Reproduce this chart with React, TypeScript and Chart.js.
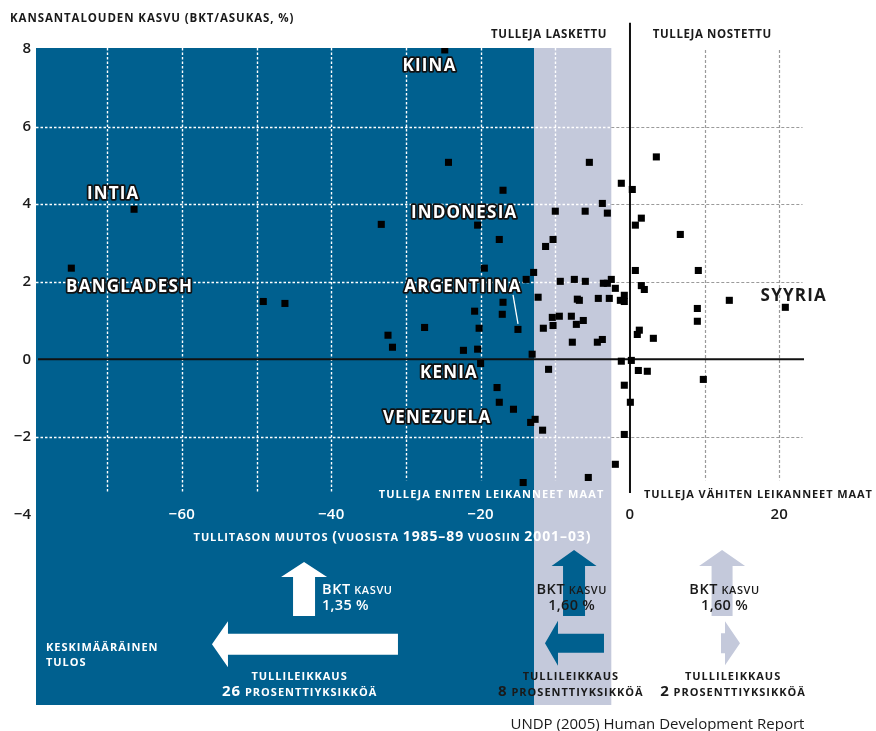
import React, { useEffect, useRef } from "react";
import { Chart, registerables } from "chart.js";

Chart.register(...registerables);

// ---------- DATA ----------
// Change in tariff level, percentage points (1985–89 to 2001–03)
const tariffChange = [
  -74.8, -66.4, -49.1, -46.2, -33.3, -32.4, -31.8, -27.5, -24.3, -17.0,
  -20.4, -17.5, -19.5, -12.9, -13.9, -12.3, -17.0, -20.8, -17.1, -20.2,
  -15.0, -22.3, -20.4, -13.1, -20.0, -5.44, 3.53, -1.16, 0.31, -3.7,
  -10.0, -6.0, -3.03, 1.52, 0.72, -10.3, -11.3, 0.72, -9.33, -7.45,
  -5.98, -2.5, -3.57, -3.03, 1.52, 1.92, -1.96, -7.05, -6.78, -4.24,
  -2.77, -0.76, -1.29, -0.76, -10.4, -9.46, -7.85, -11.6, -10.3, -7.18,
  -6.25, 1.25, 0.98, 3.13, -7.72, -4.37, -3.7, -1.16, 0.18, -10.9,
  1.12, 2.32, -17.8, -17.5, -15.6, -12.7, -13.3, -11.7, -0.76, 0.05,
  -0.76, -1.96, -5.58, -14.3, 6.74, 9.15, 13.3, 9.02, 9.02, 20.8,
  9.82, -24.8,
];
// GDP per capita growth, %
const gdpGrowth = [
  2.35, 3.87, 1.49, 1.44, 3.48, 0.62, 0.31, 0.82, 5.08, 4.36,
  3.46, 3.09, 2.35, 2.24, 2.06, 1.6, 1.47, 1.24, 1.16, 0.8,
  0.77, 0.23, 0.26, 0.13, -0.11, 5.08, 5.22, 4.54, 4.38, 4.02,
  3.82, 3.82, 3.77, 3.64, 3.46, 3.09, 2.91, 2.29, 2.01, 2.06,
  2.01, 2.06, 1.96, 1.96, 1.9, 1.8, 1.83, 1.55, 1.52, 1.57,
  1.57, 1.65, 1.52, 1.49, 1.08, 1.11, 1.11, 0.8, 0.87, 0.9,
  1.0, 0.75, 0.64, 0.54, 0.44, 0.44, 0.51, -0.05, -0.03, -0.26,
  -0.29, -0.31, -0.73, -1.11, -1.29, -1.55, -1.63, -1.83, -0.67, -1.11,
  -1.94, -2.71, -3.05, -3.18, 3.22, 2.29, 1.52, 1.31, 0.98, 1.34,
  -0.52, 7.98,
];

const countryNames = ["KIINA", "INTIA", "BANGLADESH", "INDONESIA", "ARGENTIINA", "KENIA", "VENEZUELA", "SYYRIA"];
const countryLabelX = [-26.84, -69.19, -66.99, -22.2, -22.36, -24.23, -25.81, 21.93];
const countryLabelY = [7.59, 4.28, 1.88, 3.8, 1.89, -0.33, -1.49, 1.65];
const countryLabelOutlined = [true, true, true, true, true, true, true, false];

const yTickValues = [-4, -2, 0, 2, 4, 6, 8];
const xTickValues = [-60, -40, -20, 0, 20];
const xGridValues = [-70, -60, -50, -40, -30, -20, -10, 10, 20];
const yGridValues = [-2, 2, 4, 6];

const xDomain = [-79.53, 32.94];
const yDomain = [-8.92, 8.03];
const deepCutBand = [-79.53, -12.85];
const moderateCutBand = [-12.85, -2.5];

// ---------- STYLE ----------
const BLUE = "#00608F";
const LAVENDER = "#C4C9DB";
const INK = "#1a1a1a";
const GRAY = "#9a9a9a";
const FONT = '"Open Sans", "Noto Sans", "DejaVu Sans", sans-serif';

const fmt = (v: number) => (v < 0 ? "\u2212" + Math.abs(v) : String(v));

function setFont(ctx: any, size: number, weight: string, spacing: number) {
  ctx.font = `${weight} ${size}px ${FONT}`;
  ctx.letterSpacing = `${spacing}px`;
}

function mixed(
  ctx: any,
  segs: [string, number][],
  x: number,
  y: number,
  align: "left" | "center" | "right",
  color: string,
  weight = "bold",
  spacing = 0.9
) {
  const widths: number[] = [];
  let total = 0;
  for (const [t, s] of segs) {
    setFont(ctx, s, weight, spacing);
    const w = ctx.measureText(t).width;
    widths.push(w);
    total += w;
  }
  let sx = align === "left" ? x : align === "center" ? x - total / 2 : x - total;
  ctx.textAlign = "left";
  ctx.textBaseline = "alphabetic";
  ctx.fillStyle = color;
  segs.forEach(([t, s], i) => {
    setFont(ctx, s, weight, spacing);
    ctx.fillText(t, sx, y);
    sx += widths[i];
  });
  ctx.letterSpacing = "0px";
}

function dashed(ctx: any, x1: number, y1: number, x2: number, y2: number, color: string, width: number, dash: number[]) {
  ctx.save();
  ctx.strokeStyle = color;
  ctx.lineWidth = width;
  ctx.setLineDash(dash);
  ctx.beginPath();
  ctx.moveTo(x1, y1);
  ctx.lineTo(x2, y2);
  ctx.stroke();
  ctx.restore();
}

function arrow(
  ctx: any,
  tx: number,
  ty: number,
  dir: "up" | "left" | "right",
  len: number,
  shaftW: number,
  headLen: number,
  headW: number,
  color: string
) {
  const pts: [number, number][] =
    dir === "up"
      ? [
          [0, 0],
          [headW / 2, headLen],
          [shaftW / 2, headLen],
          [shaftW / 2, len],
          [-shaftW / 2, len],
          [-shaftW / 2, headLen],
          [-headW / 2, headLen],
        ]
      : [
          [0, 0],
          [headLen, -headW / 2],
          [headLen, -shaftW / 2],
          [len, -shaftW / 2],
          [len, shaftW / 2],
          [headLen, shaftW / 2],
          [headLen, headW / 2],
        ];
  ctx.save();
  ctx.fillStyle = color;
  ctx.beginPath();
  pts.forEach(([dx, dy], i) => {
    const px = dir === "right" ? tx - dx : tx + dx;
    const py = ty + dy;
    if (i === 0) ctx.moveTo(px, py);
    else ctx.lineTo(px, py);
  });
  ctx.closePath();
  ctx.fill();
  ctx.restore();
}

const decorPlugin = {
  id: "decor",
  beforeDraw(chart: any) {
    const { ctx, chartArea, scales } = chart;
    const X = (v: number) => scales.x.getPixelForValue(v);
    const { top, bottom } = chartArea;
    ctx.save();
    ctx.fillStyle = BLUE;
    ctx.fillRect(X(deepCutBand[0]), top, X(deepCutBand[1]) - X(deepCutBand[0]), bottom - top);
    ctx.fillStyle = LAVENDER;
    ctx.fillRect(X(moderateCutBand[0]), top, X(moderateCutBand[1]) - X(moderateCutBand[0]), bottom - top);
    ctx.restore();
  },
  beforeDatasetsDraw(chart: any) {
    const { ctx, chartArea, scales } = chart;
    const X = (v: number) => scales.x.getPixelForValue(v);
    const Y = (v: number) => scales.y.getPixelForValue(v);
    const left = chartArea.left;
    const split = X(moderateCutBand[1]);
    ctx.save();

    // horizontal grid
    for (const v of yGridValues) {
      const yy = Math.round(Y(v)) + 0.5;
      dashed(ctx, left, yy, split, yy, "#ffffff", 1.4, [2.5, 2]);
      dashed(ctx, split, yy, X(23.1), yy, GRAY, 1.2, [3, 2]);
    }
    // vertical grid
    for (const v of xGridValues) {
      const xx = Math.round(X(v)) + 0.5;
      const onShade = v < moderateCutBand[1];
      const endY = v <= -40 ? Y(-3.45) : Y(-3.12);
      const startY = onShade ? Y(8.03) : Y(7.98);
      dashed(ctx, xx, startY, xx, endY, onShade ? "#ffffff" : GRAY, onShade ? 1.4 : 1.2, onShade ? [2.5, 2] : [3, 2]);
    }
    // zero axes
    ctx.strokeStyle = "#111";
    ctx.lineWidth = 2;
    ctx.beginPath();
    ctx.moveTo(left + 2, Y(0));
    ctx.lineTo(X(23.3), Y(0));
    ctx.moveTo(X(0), Y(8.68));
    ctx.lineTo(X(0), Y(-3.45));
    ctx.stroke();

    // x tick labels
    for (const v of xTickValues) {
      mixed(ctx, [[fmt(v), 15]], X(v), Y(-4.13), "center", v < moderateCutBand[1] ? "#ffffff" : INK, "600", 0.3);
    }

    // headers
    mixed(ctx, [["KANSANTALOUDEN KASVU (BKT/ASUKAS, %)", 11.5]], X(-83.0), Y(8.7), "left", INK, "bold", 0.9);
    mixed(ctx, [["TULLEJA LASKETTU", 11.5]], X(-3.07), Y(8.28), "right", INK, "bold", 0.6);
    mixed(ctx, [["TULLEJA NOSTETTU", 11.5]], X(3.05), Y(8.28), "left", INK, "bold", 0.6);
    mixed(ctx, [["TULLEJA ENITEN LEIKANNEET MAAT", 11]], X(-18.54), Y(-3.59), "center", "#ffffff", "bold", 1.1);
    mixed(ctx, [["TULLEJA V\u00c4HITEN LEIKANNEET MAAT", 11]], X(1.88), Y(-3.59), "left", INK, "bold", 0.9);
    mixed(
      ctx,
      [
        ["TULLITASON MUUTOS ", 11],
        ["(", 14],
        ["VUOSISTA ", 11],
        ["1985\u201389", 14],
        [" VUOSIIN ", 11],
        ["2001\u201303)", 14],
      ],
      X(-31.8),
      Y(-4.69),
      "center",
      "#ffffff",
      "bold",
      0.9
    );

    // average result annotations
    arrow(ctx, X(-43.64), Y(-5.23), "up", 54, 22, 15, 46, "#ffffff");
    mixed(ctx, [["BKT", 14.5], [" KASVU", 11]], X(-41.24), Y(-6.06), "left", "#ffffff", "600", 0.6);
    mixed(ctx, [["1,35 %", 14.5]], X(-41.24), Y(-6.47), "left", "#ffffff", "600", 0.3);
    arrow(ctx, X(-55.97), Y(-7.35), "left", 186, 21, 16, 46, "#ffffff");
    mixed(ctx, [["KESKIM\u00c4\u00c4R\u00c4INEN", 11]], X(-78.2), Y(-7.52), "left", "#ffffff", "bold", 1);
    mixed(ctx, [["TULOS", 11]], X(-78.2), Y(-7.92), "left", "#ffffff", "bold", 1);
    mixed(ctx, [["TULLILEIKKAUS", 11]], X(-44.24), Y(-8.28), "center", "#ffffff", "bold", 1);
    mixed(ctx, [["26", 15], [" PROSENTTIYKSIKK\u00d6\u00c4", 11]], X(-44.24), Y(-8.69), "center", "#ffffff", "bold", 1);

    arrow(ctx, X(-7.49), Y(-4.92), "up", 66, 22, 16, 45, BLUE);
    mixed(ctx, [["BKT", 14.5], [" KASVU", 11]], X(-7.8), Y(-6.06), "center", INK, "600", 0.6);
    mixed(ctx, [["1,60 %", 14.5]], X(-7.8), Y(-6.47), "center", INK, "600", 0.3);
    arrow(ctx, X(-11.38), Y(-7.33), "left", 59, 19, 13, 45, BLUE);
    mixed(ctx, [["TULLILEIKKAUS", 11]], X(-7.92), Y(-8.28), "center", INK, "bold", 1);
    mixed(ctx, [["8", 15], [" PROSENTTIYKSIKK\u00d6\u00c4", 11]], X(-7.92), Y(-8.69), "center", INK, "bold", 1);

    arrow(ctx, X(12.33), Y(-4.92), "up", 66, 21, 16, 46, LAVENDER);
    mixed(ctx, [["BKT", 14.5], [" KASVU", 11]], X(12.66), Y(-6.06), "center", INK, "600", 0.6);
    mixed(ctx, [["1,60 %", 14.5]], X(12.66), Y(-6.47), "center", INK, "600", 0.3);
    arrow(ctx, X(14.73), Y(-7.33), "right", 19, 20, 15, 44, LAVENDER);
    mixed(ctx, [["TULLILEIKKAUS", 11]], X(13.8), Y(-8.28), "center", INK, "bold", 1);
    mixed(ctx, [["2", 15], [" PROSENTTIYKSIKK\u00d6\u00c4", 11]], X(13.8), Y(-8.69), "center", INK, "bold", 1);

    mixed(ctx, [["UNDP (2005) Human Development Report", 15]], X(3.68), Y(-9.54), "center", INK, "normal", 0);
    ctx.restore();
  },
  afterDatasetsDraw(chart: any) {
    const { ctx, scales } = chart;
    const X = (v: number) => scales.x.getPixelForValue(v);
    const Y = (v: number) => scales.y.getPixelForValue(v);
    ctx.save();
    // Argentina leader
    ctx.strokeStyle = "#ffffff";
    ctx.lineWidth = 1.3;
    ctx.beginPath();
    ctx.moveTo(X(-15.66), Y(1.66));
    ctx.lineTo(X(-14.99), Y(0.91));
    ctx.stroke();

    const size = 17;
    countryNames.forEach((name, i) => {
      setFont(ctx, size, "bold", 1.2);
      ctx.textAlign = "center";
      ctx.textBaseline = "alphabetic";
      const x = X(countryLabelX[i]);
      const y = Y(countryLabelY[i]) + size * 0.357;
      if (countryLabelOutlined[i]) {
        ctx.lineJoin = "round";
        ctx.lineWidth = 3.5;
        ctx.strokeStyle = "#111";
        ctx.strokeText(name, x, y);
        ctx.fillStyle = "#ffffff";
      } else {
        ctx.fillStyle = INK;
      }
      ctx.fillText(name, x, y);
    });
    ctx.letterSpacing = "0px";
    ctx.restore();
  },
};

export default function App() {
  const ref = useRef<HTMLCanvasElement>(null);
  useEffect(() => {
    document.body.style.margin = "0";
    const canvas = ref.current!;
    const chart = new Chart(canvas, {
      type: "scatter",
      data: {
        datasets: [
          {
            data: tariffChange.map((v, i) => ({ x: v, y: gdpGrowth[i] })),
            backgroundColor: "#000",
            borderColor: "#000",
            borderWidth: 0,
            pointStyle: "rect",
            pointRadius: 5,
            pointHoverRadius: 5,
          },
        ],
      },
      options: {
        animation: false,
        responsive: false,
        devicePixelRatio: 1,
        layout: { autoPadding: false, padding: { top: 48, bottom: 26, left: 0, right: 0 } },
        plugins: { legend: { display: false }, tooltip: { enabled: false } },
        scales: {
          x: { type: "linear", min: xDomain[0], max: xDomain[1], display: false },
          y: {
            type: "linear",
            position: "left",
            min: yDomain[0],
            max: yDomain[1],
            afterBuildTicks: (axis: any) => {
              axis.ticks = yTickValues.map((v) => ({ value: v }));
            },
            afterFit: (axis: any) => {
              axis.width = 36;
            },
            grid: { display: false, drawTicks: false },
            border: { display: false },
            ticks: {
              padding: 5,
              color: INK,
              autoSkip: false,
              font: { family: FONT, size: 15, weight: "600" },
              callback: (v: any) => fmt(Number(v)),
            },
          },
        },
      } as any,
      plugins: [decorPlugin as any],
    });
    return () => chart.destroy();
  }, []);
  return (
    <div style={{ width: 876, height: 731, background: "#fff" }}>
      <canvas ref={ref} width={876} height={731} style={{ display: "block" }} />
    </div>
  );
}
